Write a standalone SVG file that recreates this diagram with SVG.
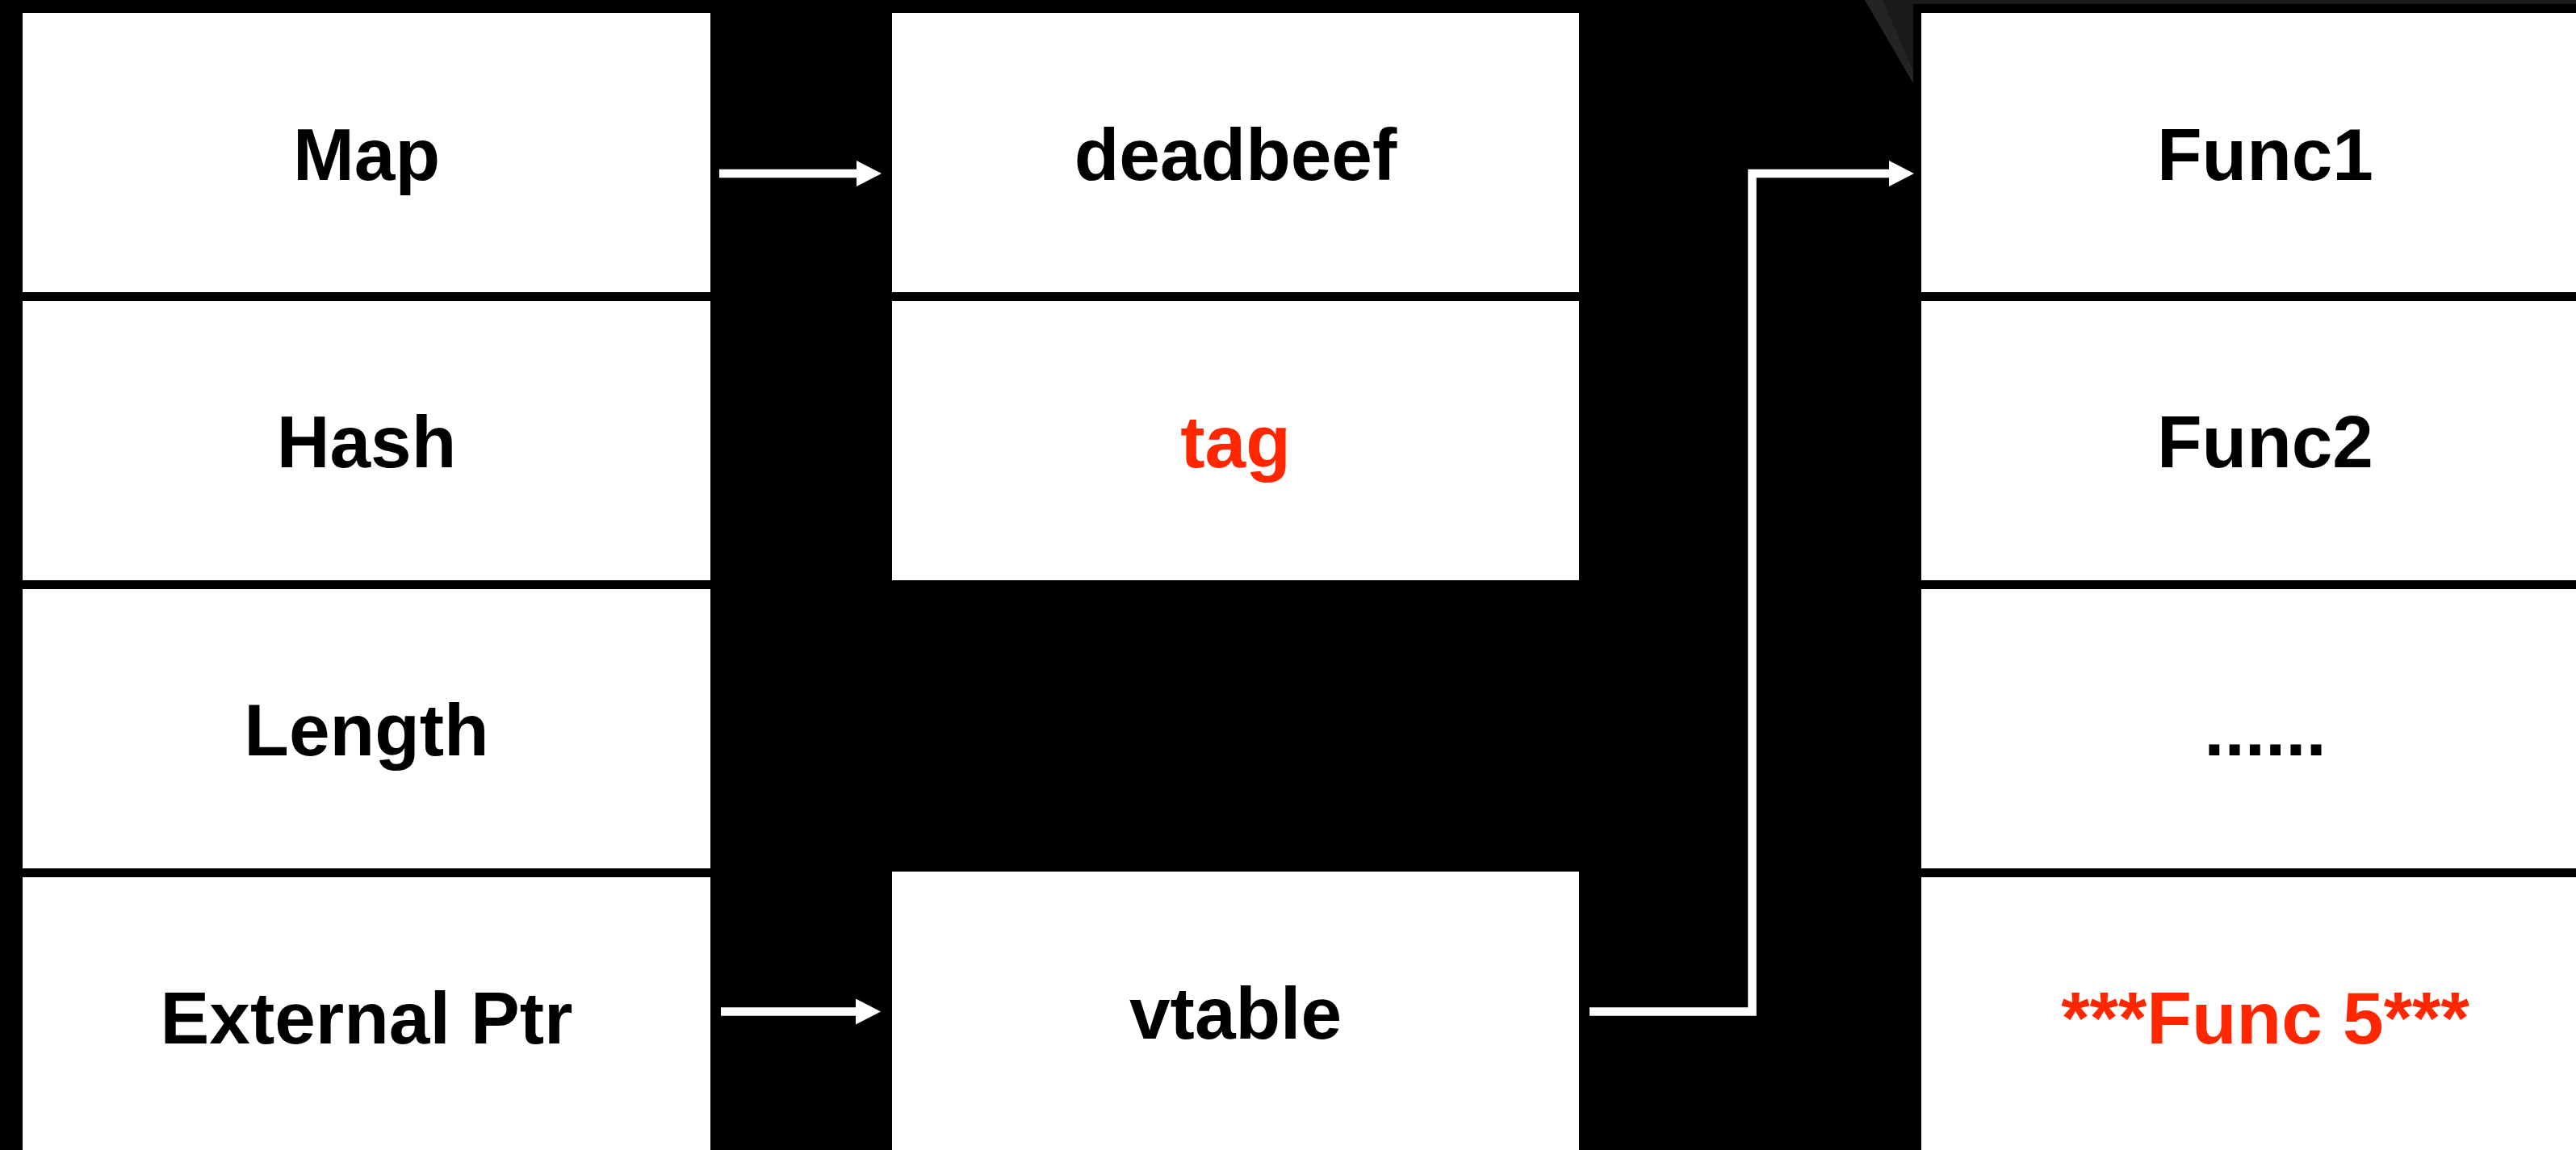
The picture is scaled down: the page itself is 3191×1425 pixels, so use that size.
<svg xmlns="http://www.w3.org/2000/svg" width="3191" height="1425" viewBox="0 0 3191 1425">
<style>
.cell{fill:#ffffff}
.t{font-family:"Liberation Sans",Arial,Helvetica,sans-serif;font-weight:bold;font-size:91px;text-anchor:middle;fill:#000000}
.red{fill:#ff2600}
.conn{fill:none;stroke:#ffffff;stroke-width:10.5;stroke-linejoin:miter}
</style>
<defs>
<marker id="ah" markerUnits="userSpaceOnUse" markerWidth="32" markerHeight="32" viewBox="0 0 31 32" refX="0" refY="16" orient="auto">
<path d="M0,0 L31,16 L0,32 z" fill="#ffffff"/>
</marker>
</defs>
<rect x="0" y="0" width="3191" height="1425" fill="#000000"/>
<polygon points="2370,0 3191,0 3191,5 2370,5" fill="#1c1c1c"/>
<polygon points="2310,0 2370,0 2370,103" fill="#1a1a1a"/>
<polygon points="2310,0 2332,0 2370,88 2370,103" fill="#242424"/>
<g id="map"><rect class="cell" x="28" y="16" width="852" height="346"/><text class="t" x="454" y="223">Map</text></g>
<g id="hash"><rect class="cell" x="28" y="373" width="852" height="346"/><text class="t" x="454" y="579">Hash</text></g>
<g id="length"><rect class="cell" x="28" y="730" width="852" height="346"/><text class="t" x="454" y="936">Length</text></g>
<g id="external-ptr"><rect class="cell" x="28" y="1087" width="852" height="346"/><text class="t" x="454" y="1293">External Ptr</text></g>
<g id="deadbeef"><rect class="cell" x="1105" y="16" width="851" height="346"/><text class="t" x="1530.5" y="223">deadbeef</text></g>
<g id="tag"><rect class="cell" x="1105" y="373" width="851" height="346"/><text class="t red" x="1530.5" y="579">tag</text></g>
<g id="vtable"><rect class="cell" x="1105" y="1080" width="851" height="360"/><text class="t" x="1530.5" y="1287">vtable</text></g>
<g id="func1"><rect class="cell" x="2380" y="16" width="852" height="346"/><text class="t" x="2806" y="223">Func1</text></g>
<g id="func2"><rect class="cell" x="2380" y="373" width="852" height="346"/><text class="t" x="2806" y="579">Func2</text></g>
<g id="ellipsis"><rect class="cell" x="2380" y="730" width="852" height="346"/><text class="t" x="2806" y="936">......</text></g>
<g id="func5"><rect class="cell" x="2380" y="1087" width="852" height="346"/><text class="t red" x="2806" y="1293">***Func 5***</text></g>
<g id="connectors">
<path class="conn" d="M891,215 H1061" marker-end="url(#ah)"/>
<path class="conn" d="M893,1253.5 H1060" marker-end="url(#ah)"/>
<path class="conn" d="M1969,1253.5 H2170.5 V215 H2340" marker-end="url(#ah)"/>
</g>
</svg>
